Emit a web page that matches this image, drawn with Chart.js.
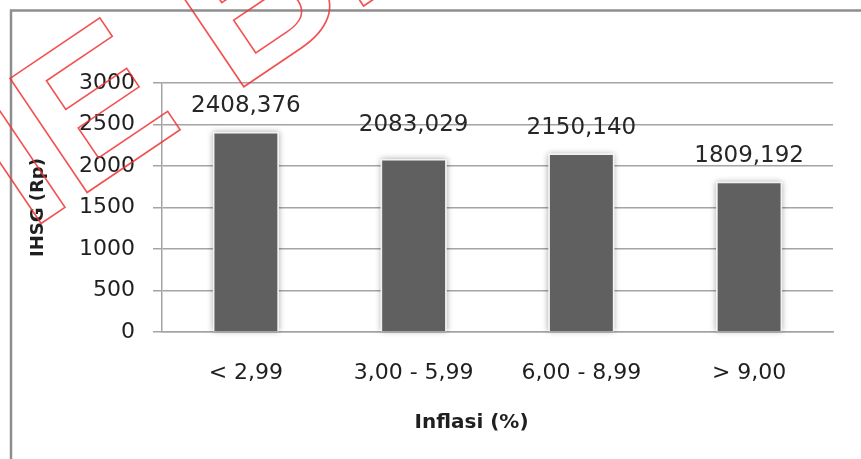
<!DOCTYPE html>
<html>
<head>
<meta charset="utf-8">
<script src="https://cdn.jsdelivr.net/npm/chart.js@4.4.1/dist/chart.umd.min.js"></script>
<style>
  html, body { margin: 0; padding: 0; background: #ffffff; }
  #wrap { width: 861px; height: 459px; position: relative; }
</style>
</head>
<body>
<div id="wrap"><canvas id="c" width="861" height="459"></canvas></div>
<script>
// Inflation bands and average IHSG per band
const categories = ['< 2,99', '3,00 - 5,99', '6,00 - 8,99', '> 9,00'];
const ihsgValues = [2408.376, 2083.029, 2150.140, 1809.192];
const yTickValues = [0, 500, 1000, 1500, 2000, 2500, 3000];
const xAxisTitle = 'Inflasi (%)';
const yAxisTitle = 'IHSG (Rp)';
const watermarkText = 'IE BI';

// 2408.376 -> "2408,376"
const formatValue = v => v.toFixed(3).replace('.', ',');

Chart.defaults.font.family = '"DejaVu Sans", Verdana, sans-serif';
Chart.defaults.color = '#1f1f1f';

// Grey frame along the top and left edges of the figure
const framePlugin = {
  id: 'frame',
  beforeDraw(chart) {
    const ctx = chart.ctx;
    ctx.save();
    ctx.strokeStyle = '#8e8e8e';
    ctx.lineWidth = 2.5;
    ctx.beginPath();
    ctx.moveTo(11, chart.height);
    ctx.lineTo(11, 10.5);
    ctx.lineTo(chart.width, 10.5);
    ctx.stroke();
    ctx.restore();
  }
};

// Soft glow behind every bar
const barShadowPlugin = {
  id: 'barShadow',
  beforeDatasetsDraw(chart) {
    const ctx = chart.ctx;
    const meta = chart.getDatasetMeta(0);
    ctx.save();
    ctx.shadowColor = 'rgba(0,0,0,0.35)';
    ctx.shadowBlur = 6;
    ctx.fillStyle = '#ffffff';
    meta.data.forEach(bar => {
      const { x, y, base, width } = bar.getProps(['x', 'y', 'base', 'width'], true);
      ctx.fillRect(x - width / 2, y, width, base - y);
    });
    ctx.restore();
  }
};

// Value labels above the bars
const valueLabelPlugin = {
  id: 'valueLabels',
  afterDatasetsDraw(chart, args, opts) {
    const ctx = chart.ctx;
    const meta = chart.getDatasetMeta(0);
    ctx.save();
    ctx.font = '23px "DejaVu Sans"';
    ctx.fillStyle = '#262626';
    ctx.textAlign = 'center';
    ctx.textBaseline = 'middle';
    meta.data.forEach((bar, i) => {
      const lift = (opts.lift && opts.lift[i]) || 0;
      ctx.fillText(formatValue(ihsgValues[i]), bar.x, bar.y - opts.gap - lift);
    });
    ctx.restore();
  }
};

// X axis title, set slightly left of the plot centre
const xTitlePlugin = {
  id: 'xTitle',
  afterDraw(chart, args, opts) {
    const ctx = chart.ctx;
    const area = chart.chartArea;
    ctx.save();
    ctx.font = 'bold 20px "DejaVu Sans"';
    ctx.fillStyle = '#1f1f1f';
    ctx.textAlign = 'center';
    ctx.textBaseline = 'middle';
    ctx.fillText(xAxisTitle, (area.left + area.right) / 2 + opts.shiftX, area.bottom + opts.dropY);
    ctx.restore();
  }
};

// Outlined red watermark lettering
const watermarkPlugin = {
  id: 'watermark',
  afterDraw(chart) {
    const ctx = chart.ctx;
    ctx.save();
    ctx.translate(30, 231);
    ctx.rotate(-34 * Math.PI / 180);
    ctx.font = 'bold 200px "Liberation Sans"';
    ctx.strokeStyle = 'rgba(240,50,50,0.85)';
    ctx.lineWidth = 1.6;
    ctx.strokeText(watermarkText, 0, 0);
    ctx.restore();
  }
};

new Chart(document.getElementById('c'), {
  type: 'bar',
  data: {
    labels: categories,
    datasets: [{
      data: ihsgValues,
      backgroundColor: '#606060',
      borderColor: '#f2f2f2',
      borderWidth: 1.5,
      barPercentage: 0.393,
      categoryPercentage: 1.0
    }]
  },
  options: {
    responsive: false,
    animation: false,
    layout: { padding: { left: 20, top: 83, right: 28, bottom: 0 } },
    plugins: {
      legend: { display: false },
      tooltip: { enabled: false },
      valueLabels: { gap: 26, lift: [0, 8, 0, 0] },
      xTitle: { shiftX: -26, dropY: 90.5 }
    },
    scales: {
      x: {
        grid: { display: false, drawTicks: false },
        border: { display: true, color: '#a4a4a4', width: 1.5 },
        ticks: { font: { size: 22 }, color: '#1f1f1f', padding: 28 },
        afterFit: s => { s.height = 127; }
      },
      y: {
        min: 0,
        max: 3000,
        afterBuildTicks: s => { s.ticks = yTickValues.map(v => ({ value: v })); },
        grid: { color: '#a4a4a4', lineWidth: 1.5, tickLength: 9 },
        border: { display: true, color: '#a4a4a4', width: 1.5 },
        ticks: {
          font: { size: 22 },
          color: '#1f1f1f',
          padding: 18,
          callback: v => String(v)
        },
        title: {
          display: true,
          text: yAxisTitle,
          font: { size: 18, weight: 'bold' },
          color: '#1f1f1f',
          padding: { top: 8, bottom: 0 }
        },
        afterFit: s => { s.width = 142; }
      }
    }
  },
  plugins: [framePlugin, barShadowPlugin, valueLabelPlugin, xTitlePlugin, watermarkPlugin]
});
</script>
</body>
</html>
